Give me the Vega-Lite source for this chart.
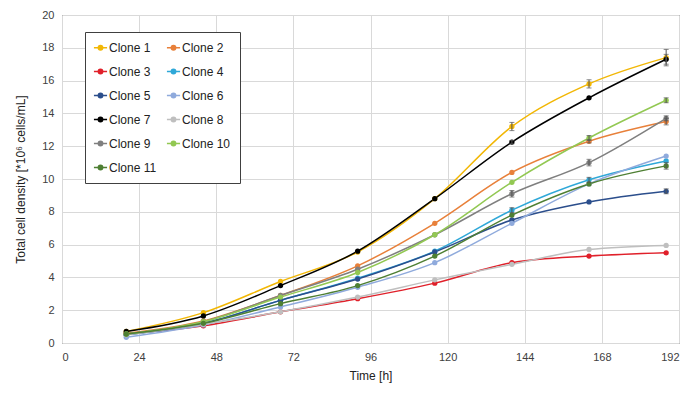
{
  "$schema": "https://vega.github.io/schema/vega-lite/v6.json",
  "width": 617,
  "height": 328,
  "autosize": {"type": "none"},
  "padding": {"left": 62, "top": 15, "right": 21, "bottom": 55},
  "background": "white",
  "config": {
    "font": "Liberation Sans",
    "view": {"stroke": "#404040", "strokeWidth": 1},
    "axis": {"labelFont": "Liberation Sans", "titleFont": "Liberation Sans", "labelFontSize": 11, "titleFontSize": 12, "titleFontWeight": "normal", "labelColor": "#404040", "titleColor": "#222", "gridColor": "#D9D9D9", "domain": false, "ticks": false}
  },
  "data": {"values": [
    {"c":"Clone 1","t":20,"v":0.7,"e":0},{"c":"Clone 1","t":44,"v":1.85,"e":0},{"c":"Clone 1","t":68,"v":3.75,"e":0},{"c":"Clone 1","t":92,"v":5.55,"e":0},{"c":"Clone 1","t":116,"v":8.8,"e":0},{"c":"Clone 1","t":140,"v":13.2,"e":0.25},{"c":"Clone 1","t":164,"v":15.8,"e":0.25},{"c":"Clone 1","t":188,"v":17.4,"e":0.5},
    {"c":"Clone 2","t":20,"v":0.6,"e":0},{"c":"Clone 2","t":44,"v":1.35,"e":0},{"c":"Clone 2","t":68,"v":2.9,"e":0},{"c":"Clone 2","t":92,"v":4.7,"e":0},{"c":"Clone 2","t":116,"v":7.3,"e":0},{"c":"Clone 2","t":140,"v":10.4,"e":0},{"c":"Clone 2","t":164,"v":12.3,"e":0.1},{"c":"Clone 2","t":188,"v":13.5,"e":0.2},
    {"c":"Clone 3","t":20,"v":0.55,"e":0},{"c":"Clone 3","t":44,"v":1.05,"e":0},{"c":"Clone 3","t":68,"v":1.9,"e":0},{"c":"Clone 3","t":92,"v":2.7,"e":0},{"c":"Clone 3","t":116,"v":3.65,"e":0},{"c":"Clone 3","t":140,"v":4.9,"e":0},{"c":"Clone 3","t":164,"v":5.3,"e":0},{"c":"Clone 3","t":188,"v":5.5,"e":0},
    {"c":"Clone 4","t":20,"v":0.5,"e":0},{"c":"Clone 4","t":44,"v":1.2,"e":0},{"c":"Clone 4","t":68,"v":2.6,"e":0},{"c":"Clone 4","t":92,"v":3.95,"e":0},{"c":"Clone 4","t":116,"v":5.6,"e":0},{"c":"Clone 4","t":140,"v":8.1,"e":0.15},{"c":"Clone 4","t":164,"v":9.95,"e":0.15},{"c":"Clone 4","t":188,"v":11.1,"e":0},
    {"c":"Clone 5","t":20,"v":0.5,"e":0},{"c":"Clone 5","t":44,"v":1.2,"e":0},{"c":"Clone 5","t":68,"v":2.6,"e":0},{"c":"Clone 5","t":92,"v":3.9,"e":0},{"c":"Clone 5","t":116,"v":5.55,"e":0},{"c":"Clone 5","t":140,"v":7.5,"e":0},{"c":"Clone 5","t":164,"v":8.6,"e":0},{"c":"Clone 5","t":188,"v":9.25,"e":0.15},
    {"c":"Clone 6","t":20,"v":0.35,"e":0},{"c":"Clone 6","t":44,"v":1.1,"e":0},{"c":"Clone 6","t":68,"v":2.2,"e":0},{"c":"Clone 6","t":92,"v":3.4,"e":0},{"c":"Clone 6","t":116,"v":4.9,"e":0},{"c":"Clone 6","t":140,"v":7.3,"e":0},{"c":"Clone 6","t":164,"v":9.7,"e":0},{"c":"Clone 6","t":188,"v":11.4,"e":0},
    {"c":"Clone 7","t":20,"v":0.7,"e":0},{"c":"Clone 7","t":44,"v":1.65,"e":0},{"c":"Clone 7","t":68,"v":3.5,"e":0},{"c":"Clone 7","t":92,"v":5.6,"e":0},{"c":"Clone 7","t":116,"v":8.8,"e":0},{"c":"Clone 7","t":140,"v":12.25,"e":0.1},{"c":"Clone 7","t":164,"v":14.95,"e":0},{"c":"Clone 7","t":188,"v":17.3,"e":0.3},
    {"c":"Clone 8","t":20,"v":0.5,"e":0},{"c":"Clone 8","t":44,"v":1.15,"e":0},{"c":"Clone 8","t":68,"v":1.9,"e":0},{"c":"Clone 8","t":92,"v":2.8,"e":0},{"c":"Clone 8","t":116,"v":3.85,"e":0},{"c":"Clone 8","t":140,"v":4.8,"e":0},{"c":"Clone 8","t":164,"v":5.7,"e":0},{"c":"Clone 8","t":188,"v":5.95,"e":0},
    {"c":"Clone 9","t":20,"v":0.55,"e":0},{"c":"Clone 9","t":44,"v":1.3,"e":0},{"c":"Clone 9","t":68,"v":2.9,"e":0},{"c":"Clone 9","t":92,"v":4.5,"e":0},{"c":"Clone 9","t":116,"v":6.6,"e":0},{"c":"Clone 9","t":140,"v":9.1,"e":0.2},{"c":"Clone 9","t":164,"v":11.0,"e":0.2},{"c":"Clone 9","t":188,"v":13.7,"e":0.15},
    {"c":"Clone 10","t":20,"v":0.55,"e":0},{"c":"Clone 10","t":44,"v":1.3,"e":0},{"c":"Clone 10","t":68,"v":2.8,"e":0},{"c":"Clone 10","t":92,"v":4.3,"e":0},{"c":"Clone 10","t":116,"v":6.6,"e":0},{"c":"Clone 10","t":140,"v":9.8,"e":0},{"c":"Clone 10","t":164,"v":12.5,"e":0.15},{"c":"Clone 10","t":188,"v":14.8,"e":0.15},
    {"c":"Clone 11","t":20,"v":0.55,"e":0},{"c":"Clone 11","t":44,"v":1.2,"e":0},{"c":"Clone 11","t":68,"v":2.4,"e":0},{"c":"Clone 11","t":92,"v":3.5,"e":0},{"c":"Clone 11","t":116,"v":5.3,"e":0},{"c":"Clone 11","t":140,"v":7.8,"e":0},{"c":"Clone 11","t":164,"v":9.7,"e":0},{"c":"Clone 11","t":188,"v":10.8,"e":0.2}
  ]},
  "encoding": {
    "x": {"field": "t", "type": "quantitative", "title": "Time [h]", "scale": {"domain": [0, 192], "nice": false}, "axis": {"values": [0,24,48,72,96,120,144,168,192], "labelPadding": 8, "titlePadding": 8}},
    "y": {"field": "v", "type": "quantitative", "title": "Total cell density [*10⁶ cells/mL]", "scale": {"domain": [0, 20], "nice": false}, "axis": {"values": [0,2,4,6,8,10,12,14,16,18,20], "labelPadding": 8, "titlePadding": 14}}
  },
  "layer": [
    {
      "mark": {"type": "line", "interpolate": "monotone", "strokeWidth": 1.5, "point": {"filled": true, "size": 28}},
      "encoding": {
        "color": {"field": "c", "type": "nominal", "title": null,
          "scale": {"domain": ["Clone 1","Clone 2","Clone 3","Clone 4","Clone 5","Clone 6","Clone 7","Clone 8","Clone 9","Clone 10","Clone 11"],
                    "range": ["#F2B705","#E8803A","#E0202A","#2FA8D8","#2B4E8C","#8FAADC","#000000","#BFBFBF","#7F7F7F","#92C852","#4E7F33"]},
          "legend": {"orient": "none", "direction": "horizontal", "legendX": 23, "legendY": 17, "columns": 2, "columnPadding": 6, "rowPadding": 11, "padding": 9, "strokeColor": "#404040", "fillColor": "white", "labelFontSize": 12, "labelFont": "Liberation Sans", "labelColor": "#222", "symbolType": "M-1.2,0H1.2M-0.4,0A0.4,0.4 0 1 1 0.4,0A0.4,0.4 0 1 1 -0.4,0", "symbolSize": 120, "symbolStrokeWidth": 1.5, "labelOffset": 2, "symbolOffset": 0}
        }
      }
    },
    {
      "transform": [{"filter": "datum.e > 0"}],
      "mark": {"type": "errorbar", "ticks": {"size": 5, "color": "#555"}, "rule": {"color": "#555", "strokeWidth": 1}},
      "encoding": {
        "yError": {"field": "e"}
      }
    }
  ]
}
